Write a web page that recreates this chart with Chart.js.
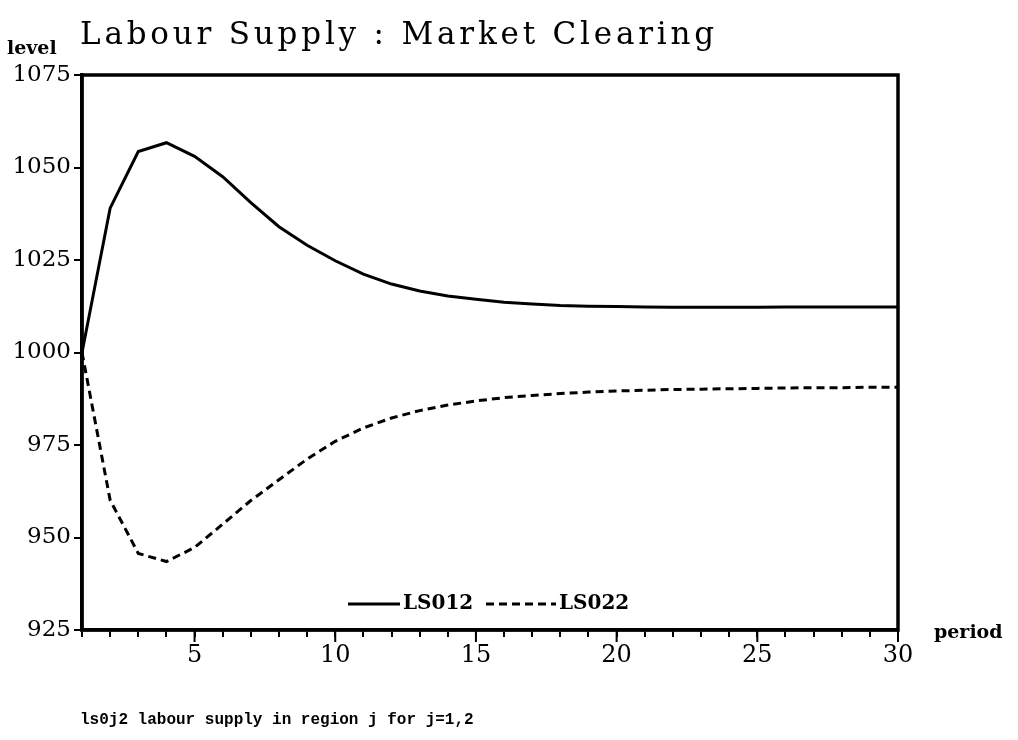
<!DOCTYPE html>
<html lang="en">
<head>
    <meta charset="UTF-8"/>
    <title>Labour Supply : Market Clearing</title>
    <script src="https://cdn.jsdelivr.net/npm/chart.js"></script>
    <style>
        html, body {
            margin: 0;
            padding: 0;
            background-color: #fff;
            width: 100%;
            height: 100%;
            overflow: hidden;
        }
        .canvas-wrapper {
            width: 1018px;
            height: 740px;
            position: relative;
        }
    </style>
</head>
<body>
<div class="canvas-wrapper">
    <canvas id="lsChart"></canvas>
</div>

<script>
    // periods 1..30
    const periods = [1, 2, 3, 4, 5, 6, 7, 8, 9, 10, 11, 12, 13, 14, 15,
                     16, 17, 18, 19, 20, 21, 22, 23, 24, 25, 26, 27, 28, 29, 30];

    // LS012 - labour supply region 1
    const ls012 = [1000, 1039, 1054.3, 1056.7, 1053, 1047.5, 1040.5, 1034, 1029, 1024.8,
                   1021.2, 1018.5, 1016.6, 1015.3, 1014.4, 1013.6, 1013.1, 1012.7, 1012.5, 1012.4,
                   1012.3, 1012.2, 1012.2, 1012.2, 1012.2, 1012.3, 1012.3, 1012.3, 1012.3, 1012.3];

    // LS022 - labour supply region 2
    const ls022 = [1000, 960.1, 945.7, 943.5, 947.3, 953.6, 960, 965.6, 971.2, 976,
                   979.6, 982.3, 984.3, 985.8, 986.9, 987.8, 988.4, 988.9, 989.3, 989.6,
                   989.8, 990, 990.1, 990.2, 990.3, 990.4, 990.5, 990.5, 990.6, 990.6];

    const yTicks = [925, 950, 975, 1000, 1025, 1050, 1075];
    const xLabels = [5, 10, 15, 20, 25, 30];

    const seriesNames = ['LS012', 'LS022'];

    const toXY = arr => arr.map((v, i) => ({ x: periods[i], y: v }));

    // frame, legend and the loose texts
    const decorPlugin = {
        id: 'decor',
        afterDraw(chart) {
            const ctx = chart.ctx;
            const a = chart.chartArea;
            ctx.save();

            // thick box
            ctx.strokeStyle = '#000';
            ctx.lineWidth = 3.5;
            ctx.strokeRect(a.left, a.top, a.right - a.left, a.bottom - a.top);

            // longer ticks on the 5s
            const xs = chart.scales.x;
            ctx.lineWidth = 2;
            xLabels.forEach(v => {
                const px = xs.getPixelForValue(v);
                ctx.beginPath();
                ctx.moveTo(px, a.bottom);
                ctx.lineTo(px, a.bottom + 12);
                ctx.stroke();
            });

            // title
            ctx.fillStyle = '#000';
            ctx.textBaseline = 'alphabetic';
            ctx.textAlign = 'left';
            ctx.font = '31px "DejaVu Serif"';
            ctx.letterSpacing = '3.8px';
            ctx.fillText('Labour Supply : Market Clearing', 80, 44);
            ctx.letterSpacing = '0px';

            ctx.font = 'bold 19px "DejaVu Serif"';
            ctx.fillText('level', 7, 54);

            ctx.font = 'bold 19px "DejaVu Serif"';
            ctx.fillText('period', 934, 638);

            ctx.font = 'bold 16px "Liberation Mono"';
            ctx.fillText('ls0j2 labour supply in region j for j=1,2', 80, 724);

            // legend inside the plot
            const ly = 604;
            ctx.lineWidth = 3;
            ctx.beginPath();
            ctx.moveTo(348, ly);
            ctx.lineTo(400, ly);
            ctx.stroke();
            ctx.setLineDash([8, 5]);
            ctx.beginPath();
            ctx.moveTo(486, ly);
            ctx.lineTo(556, ly);
            ctx.stroke();
            ctx.setLineDash([]);
            ctx.font = 'bold 20px "DejaVu Serif"';
            ctx.textBaseline = 'middle';
            ctx.fillText(seriesNames[0], 403, ly);
            ctx.fillText(seriesNames[1], 559, ly);

            ctx.restore();
        }
    };

    const ctxLs = document.getElementById('lsChart').getContext('2d');

    const lsChart = new Chart(ctxLs, {
        type: 'line',
        data: {
            datasets: [{
                label: seriesNames[0],
                data: toXY(ls012),
                borderColor: '#000',
                borderWidth: 3,
                pointRadius: 0,
                tension: 0,
                fill: false
            }, {
                label: seriesNames[1],
                data: toXY(ls022),
                borderColor: '#000',
                borderWidth: 3,
                borderDash: [8, 5],
                pointRadius: 0,
                tension: 0,
                fill: false
            }]
        },
        options: {
            responsive: true,
            maintainAspectRatio: false,
            animation: false,
            layout: {
                padding: { left: 0, top: 75, right: 120, bottom: 0 }
            },
            scales: {
                x: {
                    type: 'linear',
                    min: 1,
                    max: 30,
                    afterFit: s => { s.height = 110; },
                    afterBuildTicks: s => { s.ticks = periods.map(v => ({ value: v })); },
                    border: { display: true, color: '#000', width: 3.5 },
                    grid: {
                        drawOnChartArea: false,
                        drawTicks: true,
                        tickLength: 7,
                        color: '#000',
                        lineWidth: 2
                    },
                    ticks: {
                        color: '#000',
                        autoSkip: false,
                        maxRotation: 0,
                        padding: 4,
                        font: { family: 'DejaVu Serif', size: 24 },
                        callback: v => xLabels.includes(v) ? String(v) : ''
                    }
                },
                y: {
                    min: 925,
                    max: 1075,
                    afterFit: s => { s.width = 82; },
                    afterBuildTicks: s => { s.ticks = yTicks.map(v => ({ value: v })); },
                    border: { display: true, color: '#000', width: 3.5 },
                    grid: {
                        drawOnChartArea: false,
                        drawTicks: true,
                        tickLength: 8,
                        color: '#000',
                        lineWidth: 2
                    },
                    ticks: {
                        color: '#000',
                        padding: 3,
                        font: { family: 'DejaVu Serif', size: 23 },
                        callback: v => String(v)
                    }
                }
            },
            plugins: {
                legend: { display: false },
                tooltip: { enabled: false }
            }
        },
        plugins: [decorPlugin]
    });
</script>
</body>
</html>
